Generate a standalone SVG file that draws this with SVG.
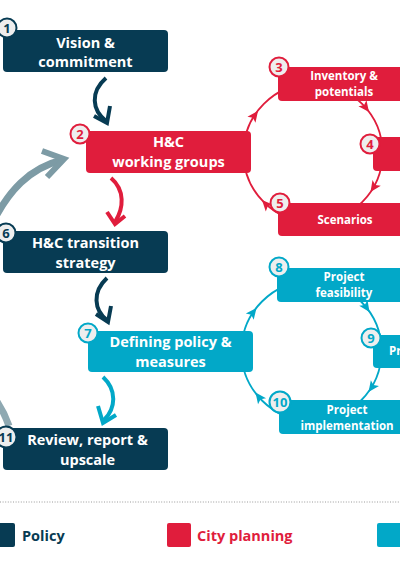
<svg xmlns="http://www.w3.org/2000/svg" width="400" height="565" viewBox="0 0 400 565">
<style>
text{font-family:"Open Sans","Noto Sans","Liberation Sans",sans-serif;font-weight:700}
.box-d{fill:#073b53}.box-r{fill:#e01d3c}.box-b{fill:#02a8c8}
.t{fill:#fff;font-size:14.5px;text-anchor:middle}
.ts{fill:#fff;font-size:11.5px;text-anchor:middle}
.bd-d{fill:#eeeeee;stroke:#073b53;stroke-width:2}
.bd-r{fill:#eeeeee;stroke:#e01d3c;stroke-width:2}
.bd-b{fill:#eeeeee;stroke:#02a8c8;stroke-width:2}
.n{font-size:13px;text-anchor:middle}
.nd{fill:#073b53}.nr{fill:#e01d3c}.nb{fill:#02a8c8}
.ring{fill:none;stroke-width:1.8}
.thick{fill:none;stroke-width:4;stroke-linejoin:miter;stroke-linecap:butt}
.leg{font-size:14.5px}
</style>
<defs>
<path id="ah" d="M0,0 L-11,-5 L-8.5,0 L-11,5 Z"/>
</defs>
<rect width="400" height="565" fill="#fff"/>
<g id="connectors">
<path d="M-10,228 C8,190 30,168 62,160" fill="none" stroke="#7d9ba5" stroke-width="7"/>
<path d="M42,151 L64,159 L47,177" fill="none" stroke="#7d9ba5" stroke-width="6" stroke-linejoin="miter"/>
<path d="M-12,390 C-3,400 4,412 9,426" fill="none" stroke="#8fa9b2" stroke-width="7"/>
<circle class="ring" cx="313" cy="153" r="69.5" stroke="#e01d3c"/>
<g fill="#e01d3c">
<use href="#ah" transform="translate(258,111) rotate(-53.4)"/>
<use href="#ah" transform="translate(369,112) rotate(53.5)"/>
<use href="#ah" transform="translate(370.5,192) rotate(124)"/>
<use href="#ah" transform="translate(262,200) rotate(227.3)"/>
</g>
<circle class="ring" cx="311.5" cy="351" r="70" stroke="#02a8c8"/>
<g fill="#02a8c8">
<use href="#ah" transform="translate(256.5,308) rotate(-52.1)"/>
<use href="#ah" transform="translate(369.5,312) rotate(56.1)"/>
<use href="#ah" transform="translate(368.5,392) rotate(125.7)"/>
<use href="#ah" transform="translate(255.5,392.5) rotate(233.4)"/>
</g>
<path class="thick" stroke="#073b53" d="M106,78 C90,92 92,110 106,121"/>
<path class="thick" stroke="#073b53" d="M94,116 L107,123 L110,106"/>
<path class="thick" stroke="#e01d3c" d="M111,178 C125,190 124,208 115,222"/>
<path class="thick" stroke="#e01d3c" d="M107,212 L115,224 L125,216"/>
<path class="thick" stroke="#073b53" d="M107,278 C92,292 94,310 107,320"/>
<path class="thick" stroke="#073b53" d="M96,314 L108,322 L111,306"/>
<path class="thick" stroke="#02a8c8" d="M103,377 C117,390 116,408 104,420"/>
<path class="thick" stroke="#02a8c8" d="M98,406 L103,423 L116,415"/>
</g>
<g id="node1">
<rect class="box-d" x="3" y="30" width="165" height="42" rx="4"/>
<text class="t" x="85.5" y="47.5">Vision &amp;</text>
<text class="t" x="85.5" y="67">commitment</text>
<circle class="bd-d" cx="7" cy="28" r="9.5"/>
<text class="n nd" x="7" y="32.7">1</text>
</g>
<g id="node2">
<rect class="box-r" x="86" y="131" width="165" height="42" rx="4"/>
<text class="t" x="168.5" y="147">H&amp;C</text>
<text class="t" x="168.5" y="167">working groups</text>
<circle class="bd-r" cx="80" cy="134" r="9.5"/>
<text class="n nr" x="80" y="138.7">2</text>
</g>
<g id="node3">
<rect class="box-r" x="278" y="67" width="134" height="34" rx="4"/>
<text class="ts" x="344" y="80">Inventory &amp;</text>
<text class="ts" x="344" y="96">potentials</text>
<circle class="bd-r" cx="279" cy="67" r="9.5"/>
<text class="n nr" x="279" y="71.7">3</text>
</g>
<g id="node4">
<rect class="box-r" x="373" y="137" width="40" height="34" rx="4"/>
<circle class="bd-r" cx="370" cy="144" r="9.5"/>
<text class="n nr" x="370" y="148.7">4</text>
</g>
<g id="node5">
<rect class="box-r" x="278" y="203" width="134" height="33" rx="4"/>
<text class="ts" x="345" y="224">Scenarios</text>
<circle class="bd-r" cx="280" cy="203" r="9.5"/>
<text class="n nr" x="280" y="207.7">5</text>
</g>
<g id="node6">
<rect class="box-d" x="3" y="231" width="165" height="42" rx="4"/>
<text class="t" x="85.5" y="248">H&amp;C transition</text>
<text class="t" x="85.5" y="268">strategy</text>
<circle class="bd-d" cx="6" cy="233" r="9.5"/>
<text class="n nd" x="6" y="237.7">6</text>
</g>
<g id="node7">
<rect class="box-b" x="88" y="331" width="165" height="41" rx="4"/>
<text class="t" x="170.5" y="347">Defining policy &amp;</text>
<text class="t" x="170.5" y="367">measures</text>
<circle class="bd-b" cx="88" cy="333" r="9.5"/>
<text class="n nb" x="88" y="337.7">7</text>
</g>
<g id="node8">
<rect class="box-b" x="277" y="268" width="135" height="34" rx="4"/>
<text class="ts" x="344" y="281">Project</text>
<text class="ts" x="344" y="297">feasibility</text>
<circle class="bd-b" cx="279" cy="267" r="9.5"/>
<text class="n nb" x="279" y="271.7">8</text>
</g>
<g id="node9">
<rect class="box-b" x="373" y="335" width="40" height="33" rx="4"/>
<text class="ts" x="389" y="355" style="text-anchor:start">Pr</text>
<circle class="bd-b" cx="371" cy="338" r="9.5"/>
<text class="n nb" x="371" y="342.7">9</text>
</g>
<g id="node10">
<rect class="box-b" x="279" y="400" width="136" height="34" rx="4"/>
<text class="ts" x="347" y="414">Project</text>
<text class="ts" x="347" y="430">implementation</text>
<circle class="bd-b" cx="280" cy="402" r="10.5"/>
<text class="n nb" x="280" y="406.7">10</text>
</g>
<g id="node11">
<rect class="box-d" x="3" y="428" width="165" height="42" rx="4"/>
<text class="t" x="87.5" y="445">Review, report &amp;</text>
<text class="t" x="87.5" y="465">upscale</text>
<circle class="bd-d" cx="6" cy="437" r="10.5"/>
<text class="n nd" x="6" y="441.7">11</text>
</g>
<g id="legend">
<line x1="0" y1="502" x2="400" y2="502" stroke="#9a9a9a" stroke-width="1" stroke-dasharray="1 1.6"/>
<rect class="box-d" x="-8" y="523" width="23" height="24" rx="2"/>
<text class="leg" x="22" y="541" fill="#073b53">Policy</text>
<rect class="box-r" x="167" y="523" width="24" height="24" rx="2"/>
<text class="leg" x="197" y="541" fill="#e01d3c">City planning</text>
<rect class="box-b" x="377" y="523" width="30" height="24" rx="2"/>
</g>
</svg>
